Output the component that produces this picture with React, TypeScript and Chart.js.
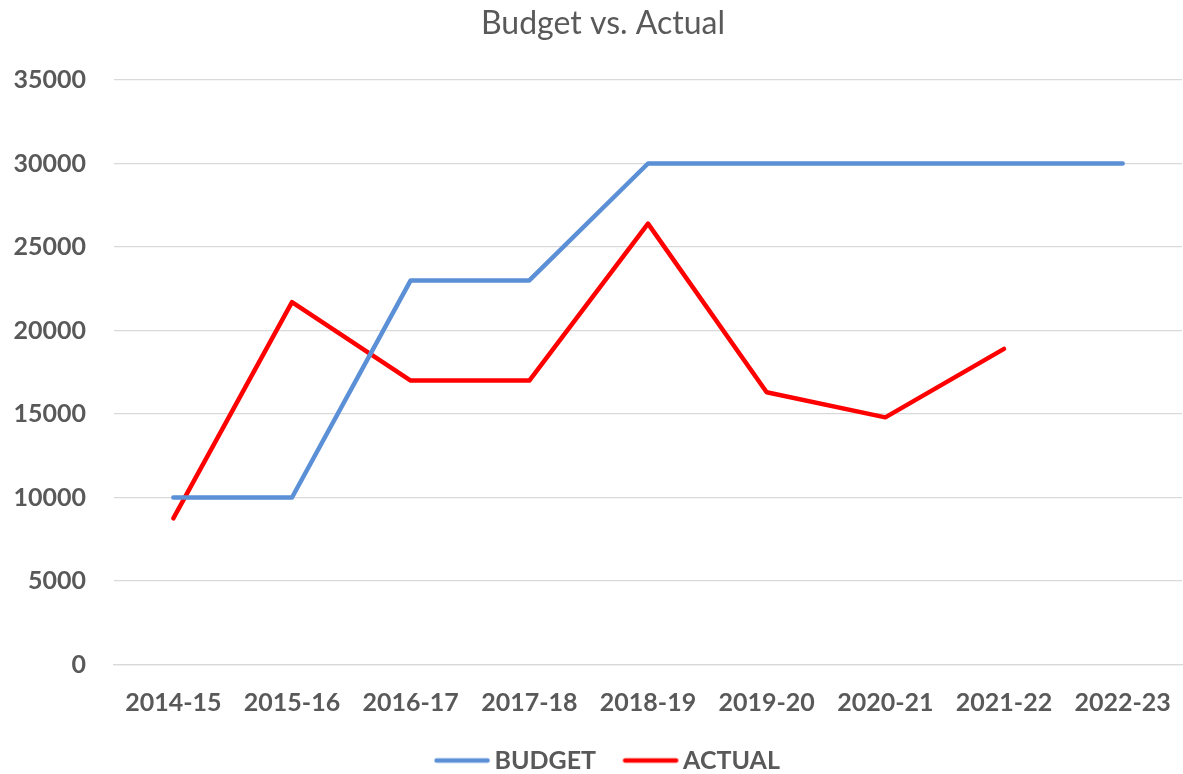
import React, { useEffect, useRef } from "react";
import { Chart, registerables } from "chart.js";

Chart.register(...registerables);

const categories = ["2014-15", "2015-16", "2016-17", "2017-18", "2018-19", "2019-20", "2020-21", "2021-22", "2022-23"];
const budgetValues = [10000, 10000, 23000, 23000, 30000, 30000, 30000, 30000, 30000];
const actualValues: (number | null)[] = [8750, 21700, 17000, 17000, 26400, 16300, 14800, 18900, null];
const yTicks = [0, 5000, 10000, 15000, 20000, 25000, 30000, 35000];

const TEXT = "#595959";
const FONT = "Lato, 'Open Sans', sans-serif";
const BLUE = "#5B8FD6";
const RED = "#FF0000";

function legendMarker(color: string) {
  const c = document.createElement("canvas");
  c.width = 70;
  c.height = 10;
  const ctx = c.getContext("2d")!;
  ctx.strokeStyle = color;
  ctx.lineWidth = 4.5;
  ctx.lineCap = "round";
  ctx.beginPath();
  ctx.moveTo(10.5, 5);
  ctx.lineTo(61.5, 5);
  ctx.stroke();
  return c;
}

const shiftPlugin = {
  id: "shiftBoxes",
  afterLayout(chart: any) {
    const lg = chart.legend;
    if (lg) {
      lg.left += 19;
      lg.right += 19;
    }
    const tt = chart.titleBlock;
    if (tt) {
      tt.left += 12;
      tt.right += 12;
    }
  },
};

export default function App() {
  const ref = useRef<HTMLCanvasElement>(null);
  useEffect(() => {
    document.body.style.margin = "0";
    const markers = [legendMarker(BLUE), legendMarker(RED)];
    const chart = new Chart(ref.current!, {
      type: "line",
      plugins: [shiftPlugin],
      data: {
        labels: categories,
        datasets: [
          {
            label: "BUDGET",
            data: budgetValues,
            borderColor: BLUE,
            backgroundColor: BLUE,
            borderWidth: 4.5,
            pointRadius: 0,
            borderCapStyle: "round",
            borderJoinStyle: "round",
            tension: 0,
          },
          {
            label: "ACTUAL",
            data: actualValues,
            borderColor: RED,
            backgroundColor: RED,
            borderWidth: 4.5,
            pointRadius: 0,
            borderCapStyle: "round",
            borderJoinStyle: "round",
            tension: 0,
          },
        ],
      },
      options: {
        responsive: false,
        animation: false,
        layout: { padding: { left: 0, right: 1, top: 0, bottom: -9 } },
        plugins: {
          title: {
            display: true,
            text: "Budget vs. Actual",
            color: TEXT,
            font: { family: FONT, size: 32, weight: "normal", lineHeight: 1.2 },
            padding: { top: 4.8, bottom: 36.8 },
          },
          legend: {
            position: "bottom",
            labels: {
              color: TEXT,
              font: { family: FONT, size: 25, weight: "bold" },
              usePointStyle: true,
              pointStyleWidth: 42,
              boxWidth: 42,
              boxHeight: 20,
              padding: 32.5,
              generateLabels: (ch: any) =>
                ch.data.datasets.map((ds: any, i: number) => ({
                  text: ds.label,
                  fontColor: TEXT,
                  fillStyle: ds.borderColor,
                  strokeStyle: ds.borderColor,
                  lineWidth: 0,
                  pointStyle: markers[i],
                  hidden: false,
                  datasetIndex: i,
                })),
            },
          },
          tooltip: { enabled: false },
        },
        scales: {
          x: {
            offset: true,
            afterFit: (s: any) => {
              s.height = 51;
              s.paddingLeft = 0;
              s.paddingRight = 0;
            },
            grid: { display: false, drawTicks: false },
            border: { display: true, color: "#d9d9d9", width: 1.3 },
            ticks: {
              color: TEXT,
              font: { family: FONT, size: 25, weight: "bold" },
              padding: 23.5,
              maxRotation: 0,
              autoSkip: false,
            },
          },
          y: {
            min: 0,
            max: 35000,
            afterFit: (s: any) => {
              s.width = 114;
              s.paddingTop = 0;
              s.paddingBottom = 0;
            },
            afterBuildTicks: (s: any) => {
              s.ticks = yTicks.map((v) => ({ value: v }));
            },
            grid: { color: "#d9d9d9", lineWidth: 1.3, drawTicks: false },
            border: { display: false },
            ticks: {
              color: TEXT,
              font: { family: FONT, size: 25, weight: "bold" },
              padding: 28,
              callback: (v: any) => String(v),
            },
          },
        },
      },
    });
    return () => chart.destroy();
  }, []);
  return <canvas ref={ref} width={1183} height={774} style={{ display: "block" }} />;
}
